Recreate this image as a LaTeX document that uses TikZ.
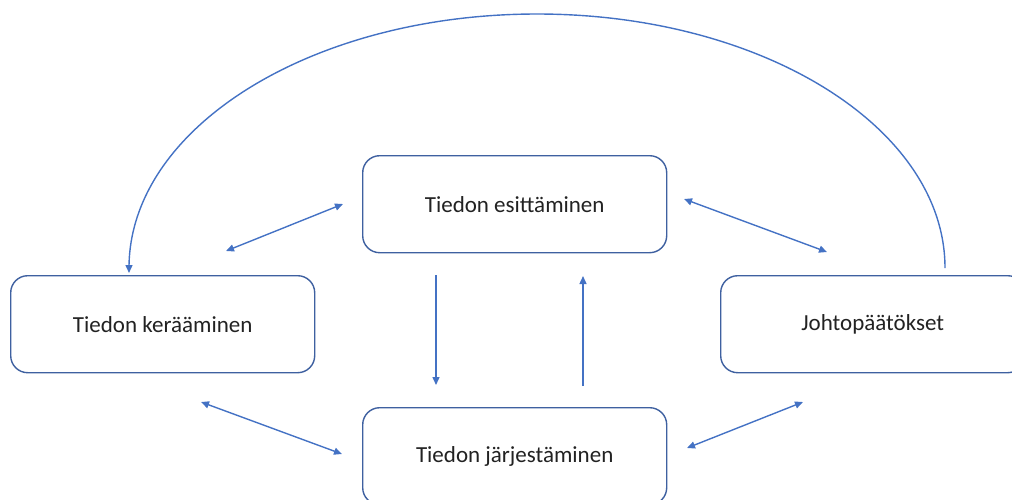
\documentclass[tikz,border=0pt]{standalone}
\usepackage{fontspec}
\setmainfont{Carlito}
\usetikzlibrary{arrows.meta}
\definecolor{boxline}{RGB}{62,96,160}
\definecolor{arrowc}{RGB}{68,114,196}
\definecolor{txt}{RGB}{34,34,34}
\tikzset{
  procbox/.style={draw=boxline, line width=1.4pt, rounded corners=17pt, fill=white,
    minimum width=304pt, minimum height=97pt, inner sep=0pt, anchor=north west,
    text=txt, font=\fontsize{23}{27}\selectfont},
  flow/.style={draw=arrowc, line width=1.4pt, -{Triangle[length=8pt,width=7pt]}},
  biflow/.style={draw=arrowc, line width=1.4pt, {Triangle[length=8pt,width=7pt]}-{Triangle[length=8pt,width=7pt]}},
}
\begin{document}
\begin{tikzpicture}[x=1pt,y=-1pt]
\useasboundingbox (0,0) rectangle (1012,499);
\clip (0,0) rectangle (1012,499);
\node[procbox] (esit) at (362,155) {Tiedon esittäminen};
\node[procbox] (keraa) at (10,275) {Tiedon kerääminen};
\node[procbox] (johto) at (720,275) {Johtopäätökset};
\node[procbox] (jarj) at (362,407) {Tiedon järjestäminen};
% arrow end points
\coordinate (a1) at (226,251);
\coordinate (a2) at (343,204);
\coordinate (b1) at (684,199);
\coordinate (b2) at (827,252);
\coordinate (c1) at (201,402);
\coordinate (c2) at (342,454);
\coordinate (d1) at (687,448);
\coordinate (d2) at (803,402);
\coordinate (e1) at (436,275);
\coordinate (e2) at (436,385);
\coordinate (f1) at (583,386);
\coordinate (f2) at (583,276);
\coordinate (g1) at (945,268);
\draw[biflow] (a1) -- (a2);
\draw[biflow] (b1) -- (b2);
\draw[biflow] (c1) -- (c2);
\draw[biflow] (d1) -- (d2);
\draw[flow] (e1) -- (e2);
\draw[flow] (f1) -- (f2);
\draw[flow] (g1) arc[start angle=0, end angle=180, x radius=408pt, y radius=254pt] -- ++(0,5);
\end{tikzpicture}
\end{document}
